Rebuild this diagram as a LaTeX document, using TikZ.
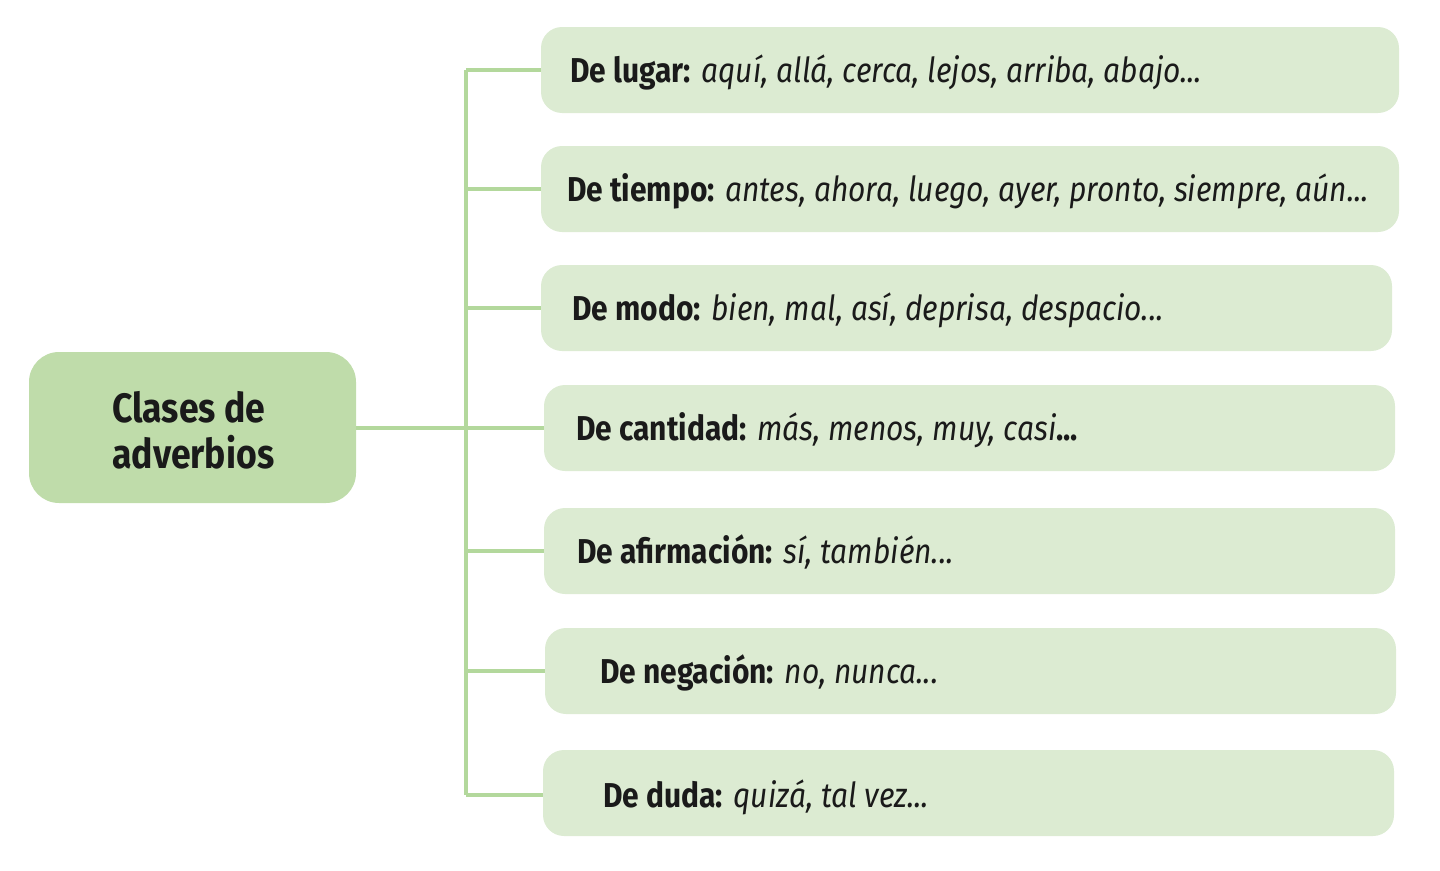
\documentclass[tikz,border=0pt]{standalone}
\usepackage{fontspec}
\setmainfont{Fira Sans}[FakeStretch=0.868]
\definecolor{mainfill}{HTML}{BFDCAA}
\definecolor{boxfill}{HTML}{DCEBD2}
\definecolor{linecol}{HTML}{B3D89C}
\definecolor{txt}{HTML}{1A1A1A}
\tikzset{
  mainbox/.style={fill=mainfill, rounded corners=30pt},
  itembox/.style={fill=boxfill, rounded corners=21pt},
  conn/.style={draw=linecol, line width=3.5pt},
  itemtext/.style={anchor=base west, inner sep=0pt, text=txt, font=\fontsize{34.5}{40}\selectfont},
  maintext/.style={anchor=base west, inner sep=0pt, text=txt, font=\fontsize{41}{46}\selectfont\bfseries},
}
\begin{document}
\begin{tikzpicture}[x=1pt,y=-1pt]
\useasboundingbox (0,0) rectangle (1440,870);
% main box
\path[mainbox] (29,352) rectangle (356,503);
\node[maintext] (mt1) at (112,422) {Clases de};
\node[maintext] (mt2) at (112,468) {adverbios};
\coordinate (mr) at (356,428);
\coordinate (tk) at (466,428);
\coordinate (ttop) at (466,70);
\coordinate (tbot) at (466,795);
% item boxes
\path[itembox] (541,27) rectangle (1399,113);
\path[itembox] (541,146) rectangle (1399,232);
\path[itembox] (541,265) rectangle (1392,351);
\path[itembox] (544,385) rectangle (1395,471);
\path[itembox] (544,508) rectangle (1395,594);
\path[itembox] (545,628) rectangle (1396,714);
\path[itembox] (543,750) rectangle (1394,836);
\coordinate (b1) at (541,70);
\coordinate (b2) at (541,189);
\coordinate (b3) at (541,308);
\coordinate (b4) at (544,428);
\coordinate (b5) at (544,551);
\coordinate (b6) at (545,671);
\coordinate (b7) at (543,795);
% connectors
\draw[conn] (mr) -- (tk);
\draw[conn] (ttop) -- (tbot);
\draw[conn] (466,70) -- (b1);
\draw[conn] (466,189) -- (b2);
\draw[conn] (466,308) -- (b3);
\draw[conn] (466,428) -- (b4);
\draw[conn] (466,551) -- (b5);
\draw[conn] (466,671) -- (b6);
\draw[conn] (466,795) -- (b7);
% texts
\node[itemtext] (t1) at (570,82) {\textbf{De lugar:} \textit{aquí, allá, cerca, lejos, arriba, abajo...}};
\node[itemtext] (t2) at (567,201) {\textbf{De tiempo:} \textit{antes, ahora, luego, ayer, pronto, siempre, aún...}};
\node[itemtext] (t3) at (572,320) {\textbf{De modo:} \textit{bien, mal, así, deprisa, despacio...}};
\node[itemtext] (t4) at (576,440) {\textbf{De cantidad:} \textit{más, menos, muy, casi}\textbf{...}};
\node[itemtext] (t5) at (577,563) {\textbf{De afirmación:} \textit{sí, también...}};
\node[itemtext] (t6) at (600,683) {\textbf{De negación:} \textit{no, nunca...}};
\node[itemtext] (t7) at (603,807) {\textbf{De duda:} \textit{quizá, tal vez...}};
\end{tikzpicture}
\end{document}
